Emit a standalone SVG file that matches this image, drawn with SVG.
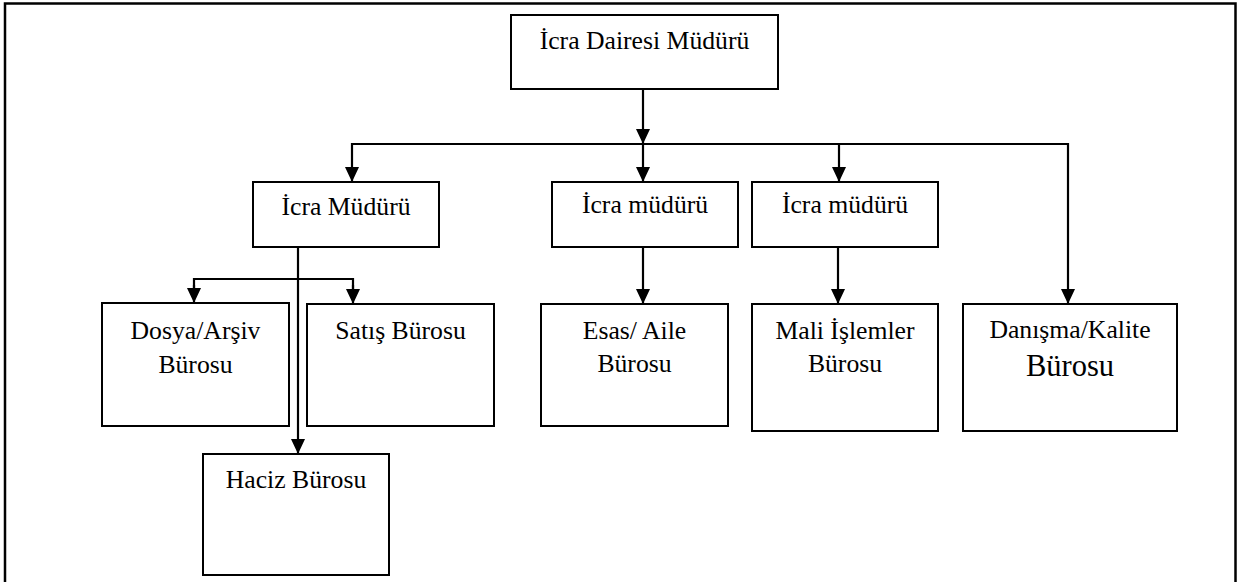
<svg xmlns="http://www.w3.org/2000/svg" width="1252" height="582" viewBox="0 0 1252 582">
<style>
.box{fill:#fff;stroke:#000;stroke-width:2}
.t{font-family:"Liberation Serif","Times New Roman",serif;font-size:25.7px;fill:#000;text-anchor:middle}
.big{font-size:30.5px}
.c{fill:none;stroke:#000;stroke-width:2.2}
.a{stroke:#000;stroke-width:2.2;fill:none;marker-end:url(#arr)}
</style>
<defs>
<marker id="arr" viewBox="0 0 15 14" markerWidth="15" markerHeight="14" refX="15" refY="7" orient="auto" markerUnits="userSpaceOnUse">
<path d="M0,0 L15,7 L0,14 Z" fill="#000"/>
</marker>
</defs>
<rect x="5" y="3.5" width="1230.5" height="640" fill="#fff" stroke="#000" stroke-width="2.5"/>
<g id="connectors">
<line class="a" x1="643" y1="89" x2="643" y2="144"/>
<line class="c" x1="352" y1="144" x2="1068" y2="144"/>
<line class="a" x1="352" y1="143" x2="352" y2="182"/>
<line class="a" x1="643" y1="144" x2="643" y2="182"/>
<line class="a" x1="839" y1="144" x2="839" y2="182"/>
<line class="a" x1="1068" y1="143" x2="1068" y2="304"/>
<line class="a" x1="298" y1="247" x2="298" y2="454"/>
<polyline class="c" points="194,290 194,279 353,279 353,290"/>
<line class="a" x1="194" y1="285" x2="194" y2="303"/>
<line class="a" x1="353" y1="285" x2="353" y2="304"/>
<line class="a" x1="643" y1="247" x2="643" y2="304"/>
<line class="a" x1="838" y1="247" x2="838" y2="304"/>
</g>
<g id="n-daire">
<rect class="box" x="511" y="15" width="267" height="74"/>
<text class="t" x="644.5" y="49">İcra Dairesi Müdürü</text>
</g>
<g id="n-icra1">
<rect class="box" x="253" y="182" width="186" height="65"/>
<text class="t" x="346" y="215">İcra Müdürü</text>
</g>
<g id="n-icra2">
<rect class="box" x="552" y="182" width="186" height="65"/>
<text class="t" x="645" y="213">İcra müdürü</text>
</g>
<g id="n-icra3">
<rect class="box" x="752" y="182" width="186" height="65"/>
<text class="t" x="845" y="213">İcra müdürü</text>
</g>
<g id="n-dosya">
<rect class="box" x="102" y="303" width="187" height="123"/>
<text class="t" x="195.5" y="339">Dosya/Arşiv</text>
<text class="t" x="195.5" y="373">Bürosu</text>
</g>
<g id="n-satis">
<rect class="box" x="307" y="304" width="187" height="122"/>
<text class="t" x="400.5" y="339">Satış Bürosu</text>
</g>
<g id="n-haciz">
<rect class="box" x="203" y="454" width="186" height="121"/>
<text class="t" x="296" y="488">Haciz Bürosu</text>
</g>
<g id="n-esas">
<rect class="box" x="541" y="304" width="187" height="122"/>
<text class="t" x="634.5" y="339">Esas/ Aile</text>
<text class="t" x="634.5" y="372">Bürosu</text>
</g>
<g id="n-mali">
<rect class="box" x="752" y="304" width="186" height="127"/>
<text class="t" x="845" y="339">Mali İşlemler</text>
<text class="t" x="845" y="372">Bürosu</text>
</g>
<g id="n-danisma">
<rect class="box" x="963" y="304" width="214" height="127"/>
<text class="t" x="1070" y="338">Danışma/Kalite</text>
<text class="t big" x="1070" y="376">Bürosu</text>
</g>
</svg>
